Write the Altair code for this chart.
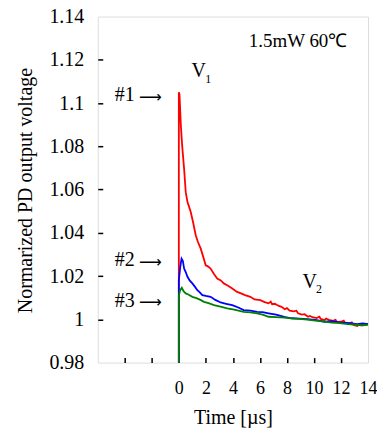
import altair as alt
import pandas as pd

# ---- data ----
red_t = [0, 0, 0.05, 0.15, 0.25, 0.39, 0.51, 0.64, 0.76, 0.88, 1.05, 1.25, 1.4, 1.62, 1.8, 1.99, 2.15, 2.35, 2.6, 2.84,
         3.1, 3.35, 3.58, 3.9, 4.31, 4.6, 4.9, 5.29, 5.6,
         6.03, 6.35, 6.64, 6.8, 6.9, 7.1, 7.4, 7.6, 7.84, 8.0, 8.2, 8.5, 8.7, 8.82, 9.1, 9.3, 9.56, 9.7, 9.9, 10.2,
         10.4, 10.5, 10.78, 10.9, 11.1, 11.4, 11.6, 11.7, 12.0, 12.2, 12.3, 12.6, 12.8, 12.9, 13.2, 13.4, 13.5, 13.8,
         14.0]
red_v = [0.98, 1.105, 1.104, 1.0896, 1.080, 1.0696, 1.0588, 1.0542, 1.052, 1.0496, 1.045, 1.0389, 1.036, 1.0327, 1.029,
         1.025, 1.0245, 1.0235, 1.021, 1.0189, 1.018, 1.0165, 1.0158, 1.0145, 1.0127, 1.012, 1.0112, 1.0104, 1.0092,
         1.0089, 1.0080, 1.0074, 1.0082, 1.0070, 1.0072, 1.0062, 1.0058, 1.0047, 1.0052, 1.0040, 1.0037, 1.0040,
         1.0028, 1.0022, 1.0024, 1.0012, 1.0016, 1.0010, 1.0006, 1.0012, 1.0002, 0.9997, 1.0004, 0.9998, 0.9993,
         0.9998, 0.9988, 0.9989, 0.9994, 0.9983, 0.9980, 0.9986, 0.9975, 0.9969, 0.9978, 0.9972, 0.9978, 0.9978]

blue_t = [0, 0, 0.1, 0.2, 0.3, 0.39, 0.5, 0.64, 0.8, 1.0, 1.2, 1.37, 1.55, 1.74, 2.0, 2.35, 2.7, 3.09, 3.5, 3.95,
          4.4, 4.8, 5.3, 5.79, 6.2, 6.64, 7.2, 7.8, 8.33, 8.9, 9.5, 10.1, 10.78, 11.3, 11.9, 12.5, 13.2, 13.6, 14.0]
blue_v = [0.98, 1.018, 1.024, 1.0281, 1.027, 1.0235, 1.022, 1.0197, 1.018, 1.0166, 1.015, 1.0135, 1.0125, 1.0112,
          1.0108, 1.0104, 1.009, 1.0078, 1.0072, 1.0066, 1.0055, 1.0043, 1.0040, 1.0035, 1.0033, 1.0028, 1.0022,
          1.0012, 1.0005, 1.0003, 1.0001, 0.9998, 0.9989, 0.9992, 0.9986, 0.9984, 0.9978, 0.9981, 0.9978]

green_t = [0, 0, 0.1, 0.22, 0.35, 0.51, 0.7, 1.0, 1.3, 1.6, 1.86, 2.2, 2.6, 3.0, 3.58, 4.1, 4.8, 5.3, 5.79, 6.2,
           6.64, 7.2, 7.8, 8.33, 8.9, 9.5, 10.1, 10.78, 11.3, 11.9, 12.5, 13.2, 13.6, 14.0]
green_v = [0.98, 1.011, 1.0135, 1.0146, 1.013, 1.012, 1.0115, 1.0104, 1.0098, 1.0090, 1.0081, 1.0075, 1.0066,
           1.0060, 1.0051, 1.0045, 1.0035, 1.0032, 1.0028, 1.0022, 1.0012, 1.0010, 1.0008, 1.0005, 1.0002, 0.9999,
           0.9994, 0.9989, 0.9985, 0.9983, 0.9978, 0.9975, 0.9972, 0.9975]

x_label_values = [0, 2, 4, 6, 8, 10, 12, 14]
x_tick_values = [-4, -2, 0, 2, 4, 6, 8, 10, 12]
y_values = [0.98, 1.0, 1.02, 1.04, 1.06, 1.08, 1.1, 1.12, 1.14]
y_tick_values = [1.0, 1.02, 1.04, 1.06, 1.08, 1.1, 1.12]

# annotations (data coordinates)
big_text = ["#1", "#2", "#3", "V", "V"]
big_x = [-4.0, -4.0, -4.0, 1.47, 9.68]
big_y = [1.1038, 1.0274, 1.0086, 1.115, 1.0174]
arrow_text = ["⟶", "⟶", "⟶"]
arrow_x = [-2.1, -2.1, -2.1]
arrow_y = [1.1030, 1.0266, 1.0078]
sub_text = ["1", "2"]
sub_x = [1.95, 10.15]
sub_y = [1.1112, 1.0140]
cond_text = ["1.5mW 60℃"]
cond_x = [8.82]
cond_y = [1.1288]

FONT = "Liberation Serif"
W, H = 271, 347

xs = alt.Scale(domain=[-6, 14], nice=False, zero=False)
ys = alt.Scale(domain=[0.98, 1.14], nice=False, zero=False)

x_main_axis = alt.Axis(
    orient="bottom", values=x_label_values, ticks=False, tickSize=0, domain=False,
    labelPadding=17, labelFontSize=18, labelOverlap=False, labelFlush=False,
    labelFont=FONT, labelFontWeight="normal", labelColor="black",
    title="Time [µs]", titleFontSize=20, titleY=45, titleBaseline="top", grid=False,
    titleFont=FONT, titleFontWeight="normal", titleColor="black")
y_main_axis = alt.Axis(
    orient="left", values=y_values, format=".2~f", ticks=False, tickSize=0, domain=False,
    labelPadding=14, labelFontSize=20, labelOverlap=False, labelFlush=False,
    labelFont=FONT, labelFontWeight="normal", labelColor="black",
    title="Normarized PD output voltage", titleFontSize=20,
    titleX=-72, titleY=174, titleBaseline="middle", grid=False,
    titleFont=FONT, titleFontWeight="normal", titleColor="black")


def series_chart(t, v, color, with_axes):
    df = pd.DataFrame({"t": t, "v": v, "i": list(range(len(t)))})
    return alt.Chart(df).mark_line(color=color, strokeWidth=1.8, clip=True).encode(
        x=alt.X("t:Q", scale=xs, axis=x_main_axis if with_axes else None),
        y=alt.Y("v:Q", scale=ys, axis=y_main_axis if with_axes else None),
        order="i:Q",
    )


red = series_chart(red_t, red_v, "#ff0000", True)
blue = series_chart(blue_t, blue_v, "#0000ff", False)
green = series_chart(green_t, green_v, "#008000", False)

big_df = pd.DataFrame({"x": big_x, "y": big_y, "s": big_text})
big = alt.Chart(big_df).mark_text(font=FONT, fontSize=20, color="black", baseline="middle").encode(
    x=alt.X("x:Q", scale=xs, axis=alt.Axis(
        orient="top", offset=-H, values=x_tick_values, labels=False, domain=False, ticks=True,
        tickSize=5, tickColor="black", tickWidth=1.5, title=None, grid=False)),
    y=alt.Y("y:Q", scale=ys, axis=alt.Axis(
        orient="right", offset=-W, values=y_tick_values, labels=False, domain=False, ticks=True,
        tickSize=5, tickColor="black", tickWidth=1.5, title=None, grid=False)),
    text="s:N",
)

arrow_df = pd.DataFrame({"x": arrow_x, "y": arrow_y, "s": arrow_text})
arrows = alt.Chart(arrow_df).mark_text(font="DejaVu Sans", fontSize=16, color="black",
                                       baseline="middle").encode(
    x=alt.X("x:Q", scale=xs, axis=None), y=alt.Y("y:Q", scale=ys, axis=None), text="s:N")

sub_df = pd.DataFrame({"x": sub_x, "y": sub_y, "s": sub_text})
sub = alt.Chart(sub_df).mark_text(font=FONT, fontSize=12, color="black", baseline="middle",
                                  align="left").encode(
    x=alt.X("x:Q", scale=xs, axis=None), y=alt.Y("y:Q", scale=ys, axis=None), text="s:N")

cond_df = pd.DataFrame({"x": cond_x, "y": cond_y, "s": cond_text})
cond = alt.Chart(cond_df).mark_text(font=FONT, fontSize=19, color="black", baseline="middle").encode(
    x=alt.X("x:Q", scale=xs, axis=None), y=alt.Y("y:Q", scale=ys, axis=None), text="s:N")

chart = alt.layer(red, blue, green, big, arrows, sub, cond).resolve_axis(
    x="independent", y="independent"
).properties(
    width=W, height=H,
    autosize=alt.AutoSizeParams(type="none"),
    padding={"left": 90, "top": 8, "right": 9, "bottom": 65},
).configure_view(stroke="black", strokeWidth=2).configure_axis(
    labelFont=FONT, titleFont=FONT, labelColor="black", titleColor="black",
    titleFontWeight="normal", labelFontWeight="normal", labelFlush=False,
).configure_text(font=FONT).configure(background="white", font=FONT)

chart.save("out.html", embed_options={"renderer": "svg", "actions": False})
